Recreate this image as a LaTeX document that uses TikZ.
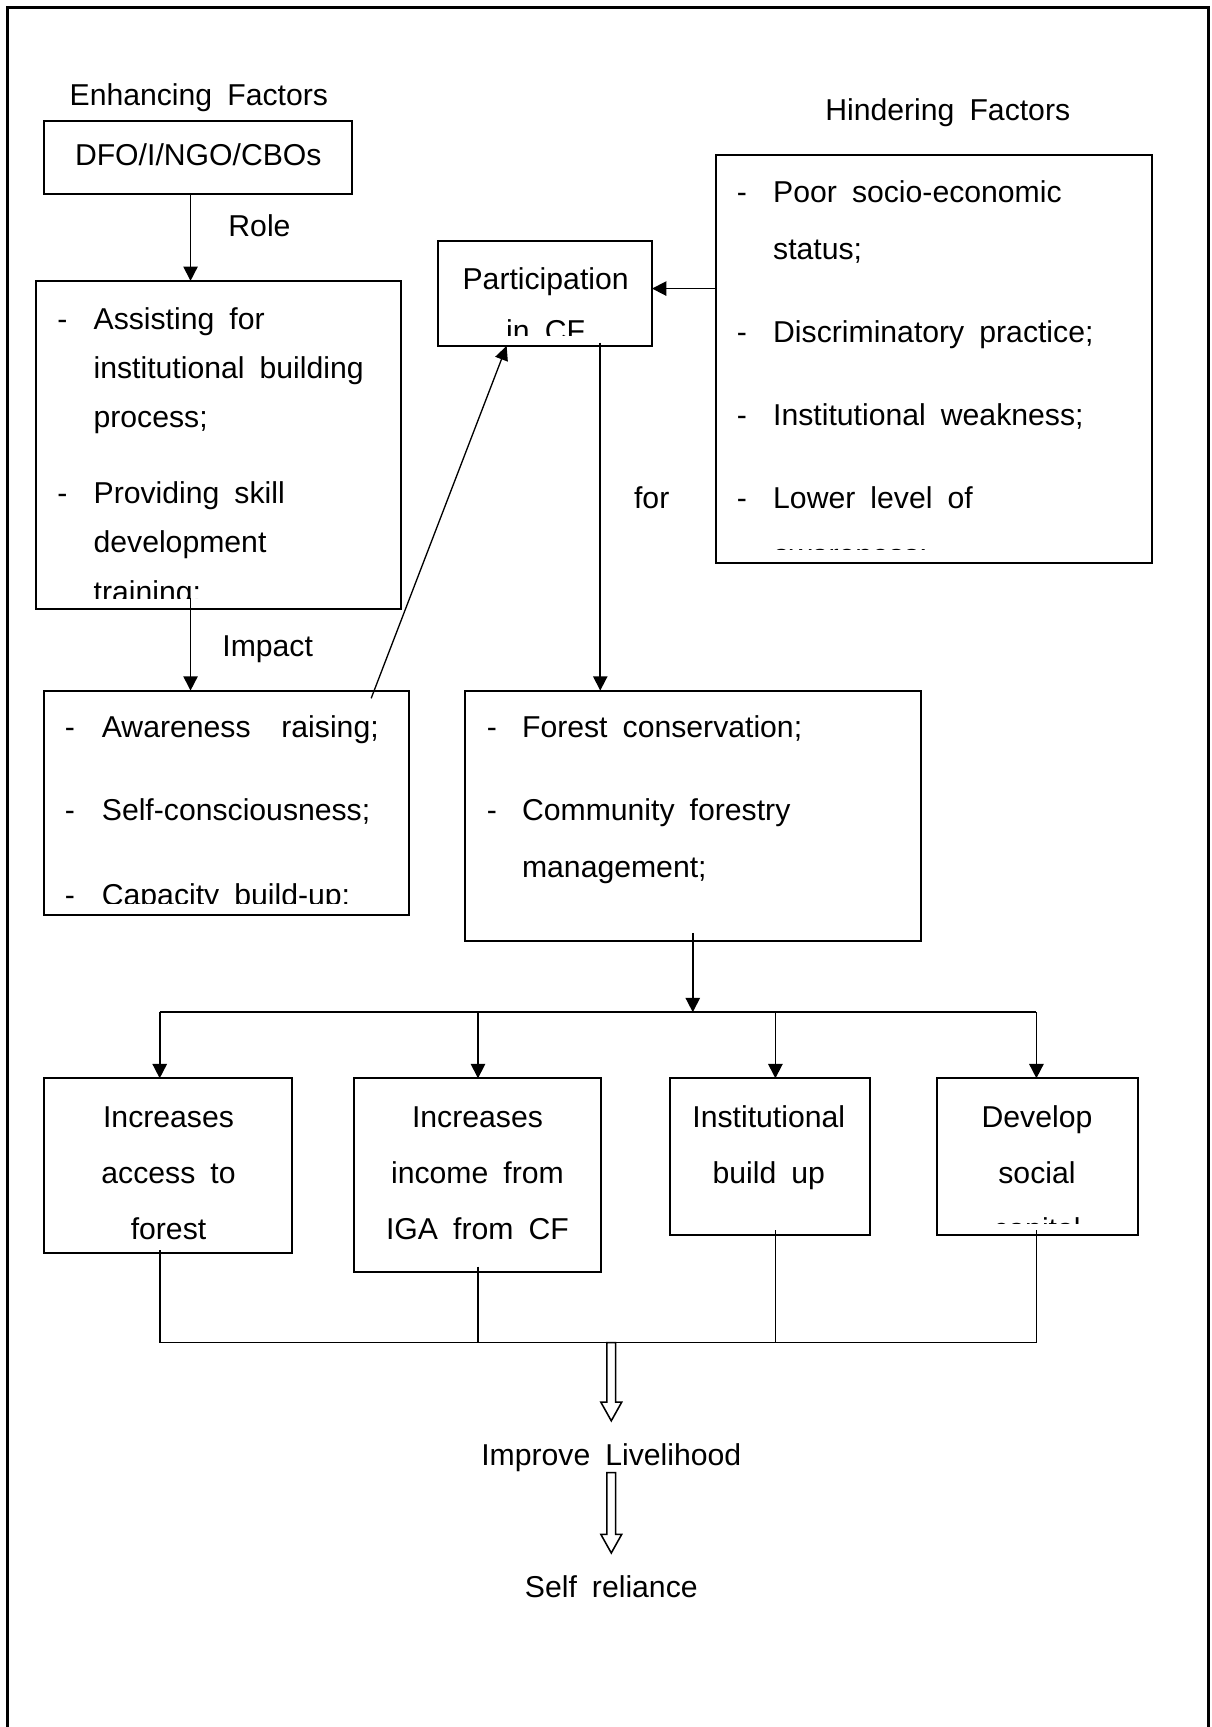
\documentclass[tikz,border=0pt]{standalone}
\usepackage{fontspec}
\setmainfont{Liberation Sans}[WordSpace=1.8]
\usetikzlibrary{arrows.meta,calc}
\begin{document}
\begin{tikzpicture}[x=1pt,y=-1pt,
  every node/.style={font=\fontsize{27.4}{33}\selectfont, inner sep=0pt, outer sep=0pt},
  box/.style={draw, line width=1.8pt, anchor=north west, inner sep=0pt, outer sep=0pt},
  lt/.style={anchor=base west},
  ct/.style={anchor=base},
  conn/.style={line width=1.5pt},
  arr/.style={line width=1.5pt, -{Triangle[length=13pt,width=13pt]}},
  thinarr/.style={line width=1.2pt, -{Triangle[length=13pt,width=12pt]}},
  hollow/.style={line width=1.4pt, fill=white},
]
\useasboundingbox (0,0) rectangle (1100,1568);
% outer frame (open at the bottom)
\draw[line width=2.6pt] (7,1575) -- (7,7) -- (1097,7) -- (1097,1575);

% ---------- boxes ----------
\node[box, minimum width=280pt, minimum height=66pt]  (dfo)    at (40,110) {};
\node[box, minimum width=331pt, minimum height=298pt] (assist) at (33,255) {};
\node[box, minimum width=331pt, minimum height=204pt] (aware)  at (40,627) {};
\node[box, minimum width=194pt, minimum height=95pt]  (part)   at (398,219) {};
\node[box, minimum width=396pt, minimum height=370pt] (hind)   at (650,141) {};
\node[box, minimum width=414pt, minimum height=227pt] (forest) at (422,627) {};
\node[box, minimum width=225pt, minimum height=159pt] (b1)     at (40,979) {};
\node[box, minimum width=225pt, minimum height=176pt] (b2)     at (321,979) {};
\node[box, minimum width=182pt, minimum height=142pt] (b3)     at (608,979) {};
\node[box, minimum width=182pt, minimum height=142pt] (b4)     at (851,979) {};

% ---------- free labels ----------
\node[ct] (enh)   at (180.5,95.5) {Enhancing Factors};
\node[ct] (dfot)  at (180,150) {DFO/I/NGO/CBOs};
\node[ct] (role)  at (235.6,214.4) {Role};
\node[ct] (imp)   at (243,596.5) {Impact};
\node[ct] (forl)  at (591.7,461.5) {for};
\node[ct] (hindT) at (860.5,109.6) {Hindering Factors};
\node[ct] (improve) at (555,1331) {Improve Livelihood};
\node[ct] (self)  at (555,1450) {Self reliance};

% ---------- box texts (clipped like the original) ----------
\begin{scope}
\clip (assist.north west) rectangle ([yshift=10pt]assist.south east);
\node[lt] (as1d) at (52,299.3) {-};
\node[lt] (as1) at (85,299.3) {Assisting for};
\node[lt] (as2) at (85,343.9) {institutional building};
\node[lt] (as3) at (85,388.5) {process;};
\node[lt] (as4d) at (52,457.4) {-};
\node[lt] (as4) at (85,457.4) {Providing skill};
\node[lt] (as5) at (85,502) {development};
\node[lt] (as6) at (85,546.6) {training;};
\end{scope}

\begin{scope}
\clip (aware.north west) rectangle ([yshift=11pt]aware.south east);
\node[lt] (aw1d) at (59,670) {-};
\node[lt] (aw1) at (92.5,670) {Awareness\hspace{28pt}raising;};
\node[lt] (aw2d) at (59,745) {-};
\node[lt] (aw2) at (92.5,745) {Self-consciousness;};
\node[lt] (aw3d) at (59,822) {-};
\node[lt] (aw3) at (92.5,822) {Capacity build-up;};
\end{scope}

\begin{scope}
\clip (part.north west) rectangle ([yshift=9pt]part.south east);
\node[ct] (pt1) at (495.4,262.5) {Participation};
\node[ct] (pt2) at (495.4,310) {in CF};
\end{scope}

\begin{scope}
\clip (hind.north west) rectangle ([yshift=12pt]hind.south east);
\node[lt] (h1d) at (669,184) {-};
\node[lt] (h1) at (702,184) {Poor socio-economic};
\node[lt] (h2) at (702,235.3) {status;};
\node[lt] (h3d) at (669,311) {-};
\node[lt] (h3) at (702,311) {Discriminatory practice;};
\node[lt] (h4d) at (669,386.7) {-};
\node[lt] (h4) at (702,386.7) {Institutional weakness;};
\node[lt] (h5d) at (669,461.7) {-};
\node[lt] (h5) at (702,461.7) {Lower level of};
\node[lt] (h6) at (702,513) {awareness;};
\end{scope}

\node[lt] (f1d) at (442,670) {-};
\node[lt] (f1) at (474,670) {Forest conservation;};
\node[lt] (f2d) at (442,745) {-};
\node[lt] (f2) at (474,745) {Community forestry};
\node[lt] (f3) at (474,796.6) {management;};

\node[ct] (b1a) at (153,1023.5) {Increases};
\node[ct] (b1b) at (153,1074.5) {access to};
\node[ct] (b1c) at (153,1125.5) {forest};
\node[ct] (b2a) at (433.5,1023.5) {Increases};
\node[ct] (b2b) at (433.5,1074.5) {income from};
\node[ct] (b2c) at (433.5,1125.5) {IGA from CF};
\node[ct] (b3a) at (698,1023.5) {Institutional};
\node[ct] (b3b) at (698,1074.5) {build up};
\begin{scope}
\clip (b4.north west) rectangle ([yshift=10pt]b4.south east);
\node[ct] (b4a) at (941.5,1023.5) {Develop};
\node[ct] (b4b) at (941.5,1074.5) {social};
\node[ct] (b4c) at (941.5,1125.5) {capital};
\end{scope}

% ---------- connectors ----------
\draw[arr] ([xshift=133pt]dfo.south west) -- ([xshift=140pt]assist.north west);
\draw[arr] ([xshift=140pt,yshift=10pt]assist.south west) -- ([xshift=133pt]aware.north west);
\draw[thinarr] ([xshift=297pt,yshift=-7pt]aware.north west) -- ([xshift=62pt]part.south west);
\draw[arr] ([yshift=-121pt]hind.north west) -- ([yshift=-43pt]part.north east);
\draw[arr] ([xshift=147pt,yshift=3pt]part.south west) -- ([xshift=123pt]forest.north west);

% upper bus
\coordinate (bus1) at (629,919);
\coordinate (busL) at (145,919);
\coordinate (busR) at (941,919);
\draw[arr] ([xshift=207pt,yshift=7pt]forest.south west) -- (bus1);
\draw[conn] (busL) -- (busR);
\coordinate (t1) at ([xshift=105pt]b1.north west);
\coordinate (t2) at ([xshift=113pt]b2.north west);
\coordinate (t3) at ([xshift=96pt]b3.north west);
\coordinate (t4) at ([xshift=90pt]b4.north west);
\draw[arr] (t1 |- bus1) -- (t1);
\draw[arr] (t2 |- bus1) -- (t2);
\draw[arr] (t3 |- bus1) -- (t3);
\draw[arr] (t4 |- bus1) -- (t4);

% lower bus
\coordinate (bus2) at (555,1219);
\coordinate (s1) at ([xshift=105pt,yshift=3pt]b1.south west);
\coordinate (s2) at ([xshift=113pt,yshift=5pt]b2.south west);
\coordinate (s3) at ([xshift=96pt,yshift=4pt]b3.south west);
\coordinate (s4) at ([xshift=90pt,yshift=4pt]b4.south west);
\draw[conn] (s1) -- (s1 |- bus2);
\draw[conn] (s2) -- (s2 |- bus2);
\draw[conn] (s3) -- (s3 |- bus2);
\draw[conn] (s4) -- (s4 |- bus2);
\draw[conn] (s1 |- bus2) -- (s4 |- bus2);

% hollow arrows
\draw[hollow] ($(bus2)+(-4,0)$) -- ++(0,54) -- ++(-5.5,0) -- ++(9.5,17) -- ++(9.5,-17) -- ++(-5.5,0) -- ++(0,-54) -- cycle;
\coordinate (h2top) at ($(improve.base)+(0,6)$);
\draw[hollow] ($(h2top)+(-4,0)$) -- ++(0,56) -- ++(-5.5,0) -- ++(9.5,17) -- ++(9.5,-17) -- ++(-5.5,0) -- ++(0,-56) -- cycle;
\end{tikzpicture}
\end{document}
